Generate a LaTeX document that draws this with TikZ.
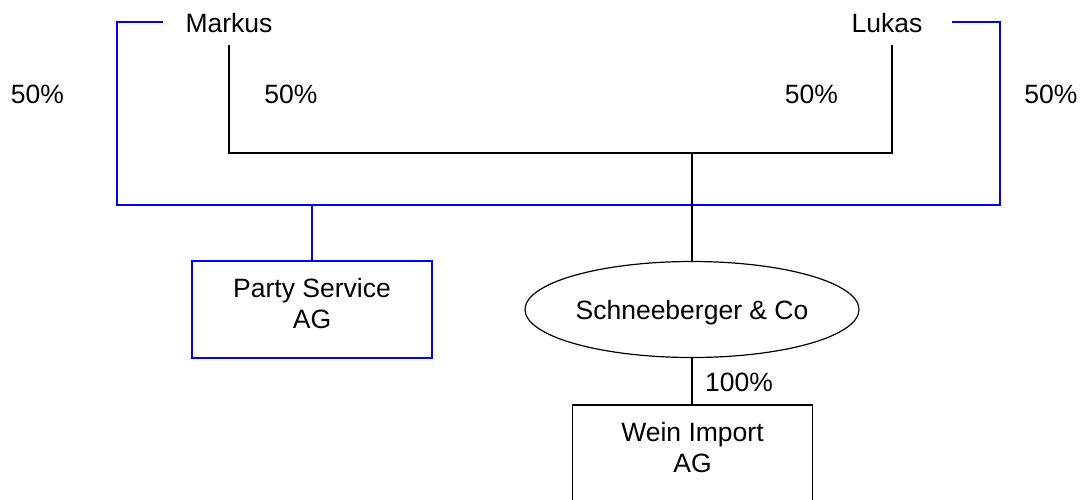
\documentclass[tikz,border=0pt]{standalone}
\usepackage{fontspec}
\setmainfont{Liberation Sans}
\usetikzlibrary{shapes.geometric}
\tikzset{
  lbl/.style={inner sep=0pt, anchor=base, font=\fontsize{26.5}{31}\selectfont},
  blk/.style={draw=black, line width=1.2pt},
  bl/.style={draw=blue, line width=1.3pt},
  cbox/.style={rectangle, minimum width=240pt, minimum height=97pt, inner sep=0pt,
    align=center, text depth=12.5pt, font=\fontsize{26.5}{31}\selectfont},
  coell/.style={ellipse, draw=black, line width=1.2pt, minimum width=334pt, minimum height=96pt,
    inner sep=0pt, text depth=0pt, font=\fontsize{26.5}{31}\selectfont}
}
\begin{document}
\begin{tikzpicture}[x=1pt, y=-1pt]
\useasboundingbox (0,0) rectangle (1087,499);
\clip (0,0) rectangle (1087,499);
\fill[white] (0,0) rectangle (1087,499);

% persons
\node[lbl] (markus) at (229,32) {Markus};
\node[lbl] (lukas) at (887,32) {Lukas};

% percentages
\node[lbl] (pa) at (37.5,103) {50\%};
\node[lbl] (pb) at (291,103) {50\%};
\node[lbl] (pc) at (811.5,103) {50\%};
\node[lbl] (pd) at (1051,103) {50\%};
\node[lbl] (pe) at (739,391.5) {100\%};

% companies
\node[cbox, bl] (ps) at (312,309.5) {Party Service\\AG};
\node[coell] (sch) at (692,309.5) {Schneeberger \& Co};
\node[cbox, blk] (wein) at (692.5,453.5) {Wein Import\\AG};

% coordinates
\coordinate (mtop) at (229,45);
\coordinate (ltop) at (892,45);
\coordinate (jb) at (692,153);
\coordinate (blft) at (163,22);
\coordinate (brgt) at (952,22);
\coordinate (bjl) at (117,205);
\coordinate (bjr) at (1000,205);

% black ownership lines
\draw[blk] (mtop) |- (jb) -| (ltop);
\draw[blk] (jb) -- (sch.north);
\draw[blk] (sch.south) -- (wein.north -| sch.south);

% blue ownership lines
\draw[bl] (blft) -| (bjl) -- (bjr) |- (brgt);
\draw[bl] (ps.north |- bjl) -- (ps.north);
\end{tikzpicture}
\end{document}
